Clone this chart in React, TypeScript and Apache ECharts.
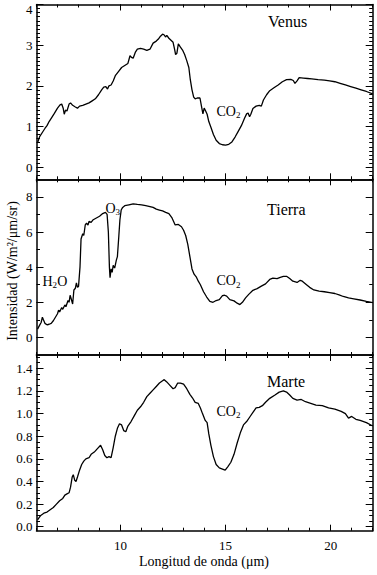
import React, { useEffect, useRef } from 'react';
import * as echarts from 'echarts';

// ---- Venus ----
const venusX = [6.05, 6.15, 6.3, 6.4, 6.5, 6.6, 6.7, 6.85, 7.0, 7.12, 7.2, 7.27, 7.32, 7.38, 7.45, 7.55, 7.62, 7.72, 7.85, 7.95, 8.05, 8.2, 8.35, 8.5, 8.65, 8.8, 8.95, 9.1, 9.2, 9.3, 9.38, 9.45, 9.55, 9.65, 9.75, 9.9, 10.05, 10.2, 10.35, 10.45, 10.52, 10.6, 10.7, 10.8, 10.95, 11.1, 11.25, 11.4, 11.55, 11.7, 11.8, 11.9, 12.0, 12.08, 12.14, 12.2, 12.3, 12.4, 12.5, 12.57, 12.62, 12.68, 12.75, 12.85, 12.95, 13.05, 13.15, 13.25, 13.32, 13.4, 13.48, 13.55, 13.65, 13.78, 13.85, 13.92, 13.98, 14.05, 14.12, 14.2, 14.3, 14.42, 14.55, 14.7, 14.85, 15.0, 15.15, 15.3, 15.45, 15.6, 15.75, 15.9, 16.0, 16.07, 16.14, 16.2, 16.3, 16.45, 16.6, 16.7, 16.8, 16.95, 17.1, 17.3, 17.5, 17.7, 17.9, 18.1, 18.22, 18.3, 18.4, 18.5, 18.7, 18.9, 19.1, 19.4, 19.7, 19.95, 20.2, 20.45, 20.7, 20.95, 21.2, 21.45, 21.7, 22.0];
const venusY = [0.6, 0.75, 0.87, 0.95, 1.02, 1.12, 1.2, 1.32, 1.45, 1.53, 1.55, 1.45, 1.3, 1.4, 1.38, 1.55, 1.58, 1.52, 1.48, 1.45, 1.5, 1.52, 1.55, 1.58, 1.63, 1.68, 1.78, 1.9, 1.97, 1.98, 1.92, 2.0, 2.02, 2.12, 2.25, 2.35, 2.45, 2.5, 2.55, 2.74, 2.7, 2.68, 2.82, 2.9, 2.92, 2.9, 2.87, 2.9, 3.05, 3.1, 3.15, 3.22, 3.27, 3.25, 3.2, 3.24, 3.17, 3.12, 3.07, 2.9, 2.77, 2.8, 3.03, 2.95, 2.88, 2.77, 2.62, 2.45, 2.15, 1.9, 1.72, 1.68, 1.7, 1.7, 1.5, 1.31, 1.45, 1.38, 1.3, 1.12, 0.98, 0.8, 0.66, 0.58, 0.55, 0.54, 0.56, 0.62, 0.74, 0.88, 1.02, 1.2, 1.31, 1.33, 1.24, 1.3, 1.44, 1.5, 1.52, 1.5, 1.65, 1.78, 1.88, 1.95, 2.02, 2.1, 2.15, 2.16, 2.13, 2.06, 2.12, 2.2, 2.19, 2.18, 2.17, 2.15, 2.14, 2.12, 2.1, 2.06, 2.02, 1.98, 1.94, 1.9, 1.86, 1.8];

// ---- Tierra ----
const tierraX = [6.05, 6.15, 6.22, 6.28, 6.33, 6.4, 6.5, 6.6, 6.7, 6.8, 6.9, 7.0, 7.05, 7.1, 7.2, 7.25, 7.35, 7.4, 7.5, 7.55, 7.6, 7.65, 7.72, 7.78, 7.85, 7.9, 7.95, 8.0, 8.07, 8.12, 8.2, 8.25, 8.32, 8.38, 8.45, 8.5, 8.6, 8.7, 8.85, 9.0, 9.15, 9.28, 9.36, 9.42, 9.47, 9.5, 9.55, 9.6, 9.65, 9.72, 9.8, 9.85, 9.92, 9.97, 10.03, 10.1, 10.2, 10.4, 10.6, 10.8, 11.0, 11.2, 11.4, 11.55, 11.7, 11.85, 12.0, 12.15, 12.3, 12.45, 12.6, 12.75, 12.9, 13.0, 13.1, 13.2, 13.3, 13.4, 13.5, 13.6, 13.7, 13.8, 13.95, 14.1, 14.25, 14.4, 14.55, 14.7, 14.85, 14.95, 15.05, 15.2, 15.4, 15.55, 15.68, 15.8, 15.95, 16.1, 16.3, 16.5, 16.7, 16.9, 17.1, 17.25, 17.45, 17.6, 17.75, 17.9, 18.05, 18.2, 18.4, 18.55, 18.65, 18.85, 19.0, 19.2, 19.45, 19.7, 19.95, 20.2, 20.4, 20.6, 20.85, 21.1, 21.4, 21.7, 22.0];
const tierraY = [0.47, 0.7, 0.85, 1.15, 1.0, 0.8, 0.72, 0.75, 0.8, 0.95, 1.15, 1.35, 1.55, 1.45, 1.7, 1.6, 1.85, 1.75, 2.1, 2.0, 2.4, 2.2, 1.9, 2.7, 2.8, 3.1, 2.85, 2.9, 4.0, 5.6, 5.9, 5.8, 6.4, 6.5, 6.4, 6.6, 6.55, 6.7, 6.8, 6.9, 7.05, 7.12, 7.0, 6.0, 4.0, 3.4, 3.9, 3.7, 4.1, 3.95, 4.4, 4.6, 5.8, 6.7, 7.25, 7.4, 7.5, 7.55, 7.6, 7.57, 7.55, 7.5, 7.45, 7.4, 7.3, 7.25, 7.2, 7.12, 7.05, 6.8, 6.4, 6.43, 6.3, 6.1, 5.8, 5.3, 4.6, 3.9, 3.6, 3.45, 3.2, 3.0, 2.6, 2.3, 2.05, 2.0, 2.1, 2.15, 2.38, 2.4, 2.35, 2.15, 2.08, 1.95, 1.87, 2.0, 2.25, 2.45, 2.68, 2.78, 2.92, 3.05, 3.3, 3.37, 3.35, 3.42, 3.47, 3.48, 3.35, 3.2, 3.13, 3.25, 3.2, 3.0, 2.85, 2.7, 2.63, 2.6, 2.55, 2.5, 2.42, 2.33, 2.25, 2.2, 2.13, 2.05, 1.98];

// ---- Marte ----
const marteX = [6.05, 6.2, 6.35, 6.5, 6.65, 6.8, 6.95, 7.1, 7.25, 7.35, 7.45, 7.55, 7.62, 7.7, 7.75, 7.82, 7.88, 7.95, 8.05, 8.15, 8.25, 8.35, 8.5, 8.6, 8.75, 8.9, 9.05, 9.15, 9.25, 9.35, 9.45, 9.55, 9.65, 9.75, 9.85, 9.95, 10.05, 10.15, 10.25, 10.35, 10.5, 10.65, 10.8, 10.95, 11.1, 11.25, 11.4, 11.55, 11.7, 11.85, 12.0, 12.08, 12.2, 12.35, 12.5, 12.6, 12.72, 12.85, 13.0, 13.15, 13.3, 13.42, 13.55, 13.7, 13.8, 13.9, 14.03, 14.12, 14.2, 14.3, 14.42, 14.55, 14.7, 14.85, 14.98, 15.1, 15.25, 15.4, 15.55, 15.7, 15.85, 16.0, 16.15, 16.3, 16.45, 16.6, 16.75, 16.9, 17.1, 17.35, 17.55, 17.75, 17.9, 18.05, 18.2, 18.4, 18.6, 18.8, 19.05, 19.3, 19.6, 19.9, 20.2, 20.5, 20.7, 20.85, 21.0, 21.2, 21.4, 21.7, 22.0];
const marteY = [0.06, 0.1, 0.12, 0.13, 0.15, 0.17, 0.2, 0.23, 0.25, 0.28, 0.29, 0.3, 0.35, 0.44, 0.46, 0.41, 0.4, 0.44, 0.5, 0.55, 0.58, 0.6, 0.61, 0.64, 0.66, 0.69, 0.72, 0.68, 0.63, 0.61, 0.62, 0.61, 0.7, 0.8, 0.87, 0.91, 0.9, 0.85, 0.84, 0.89, 0.93, 0.98, 1.03, 1.06, 1.1, 1.15, 1.18, 1.21, 1.24, 1.27, 1.29, 1.3, 1.28, 1.25, 1.22, 1.23, 1.27, 1.27, 1.26, 1.22, 1.17, 1.14, 1.1, 1.09, 1.05, 1.0, 0.94, 0.92, 0.82, 0.72, 0.62, 0.55, 0.52, 0.51, 0.5, 0.53, 0.57, 0.64, 0.74, 0.83, 0.9, 0.93, 0.97, 1.01, 1.05, 1.055, 1.07, 1.1, 1.135, 1.165, 1.19, 1.2, 1.19, 1.165, 1.135, 1.12, 1.125, 1.105, 1.09, 1.075, 1.07, 1.05, 1.04, 1.02, 1.0, 0.96, 0.975, 0.95, 0.94, 0.92, 0.89];

// ---- axes ----
const xTickLabels = [10, 15, 20];
const venusTickLabels = [0, 1, 2, 3, 4];
const tierraTickLabels = [0, 2, 4, 6, 8];
const marteTickLabels = [0, 0.2, 0.4, 0.6, 0.8, 1.0, 1.2, 1.4];

const FONT = 'Liberation Serif';
const BLACK = '#000';

function range(a: number, b: number, step: number): number[] {
  const out: number[] = [];
  const n = Math.round((b - a) / step);
  for (let i = 0; i <= n; i++) out.push(Math.round((a + i * step) * 1000) / 1000);
  return out;
}

const panels = [
  { name: 'Venus', xs: venusX, ys: venusY, min: -0.3, max: 4.0, major: venusTickLabels, minor: range(-0.3, 4.0, 0.1), digits: 0, top: 4.5, height: 174.8 },
  { name: 'Tierra', xs: tierraX, ys: tierraY, min: -1, max: 9, major: tierraTickLabels, minor: range(-1, 9, 1), digits: 0, top: 179.3, height: 175.7 },
  { name: 'Marte', xs: marteX, ys: marteY, min: -0.035, max: 1.518, major: marteTickLabels, minor: range(0, 1.5, 0.05), digits: 1, top: 355, height: 175.7 },
];

const X_MIN = 6;
const X_MAX = 22;
const xMinor = range(6, 22, 1);

function buildOption() {
  const grid: any[] = [];
  const xAxis: any[] = [];
  const yAxis: any[] = [];
  const series: any[] = [];
  const lineStyle = { color: BLACK, width: 1.5 };
  const tickStyle = { color: BLACK, width: 1 };

  panels.forEach((p, i) => {
    grid.push({ left: 36.5, right: 4.3, top: p.top, height: p.height, containLabel: false, outerBoundsMode: 'none' });
    const last = i === panels.length - 1;
    const xBase = {
      gridIndex: i, type: 'value', min: X_MIN, max: X_MAX,
      splitLine: { show: false },
    };
    xAxis.push({
      ...xBase, position: 'bottom', offset: 0,
      axisLine: { show: true, onZero: false, lineStyle },
      axisTick: { show: true, inside: true, length: 3, customValues: xMinor, lineStyle: tickStyle },
      axisLabel: { show: last, customValues: xTickLabels, color: BLACK, fontFamily: FONT, fontSize: 13, margin: 8 },
    });
    xAxis.push({
      ...xBase, position: 'bottom', offset: 0,
      axisLine: { show: false, onZero: false },
      axisTick: { show: true, inside: true, length: 6, customValues: xTickLabels, lineStyle: tickStyle },
      axisLabel: { show: false },
    });
    xAxis.push({
      ...xBase, position: 'top', offset: 0,
      axisLine: { show: true, onZero: false, lineStyle },
      axisTick: { show: true, inside: true, length: 3, customValues: xMinor, lineStyle: tickStyle },
      axisLabel: { show: false },
    });
    xAxis.push({
      ...xBase, position: 'top', offset: 0,
      axisLine: { show: false, onZero: false },
      axisTick: { show: true, inside: true, length: 6, customValues: xTickLabels, lineStyle: tickStyle },
      axisLabel: { show: false },
    });

    const yBase = { gridIndex: i, type: 'value', min: p.min, max: p.max, splitLine: { show: false } };
    // labels: the top "4" of Venus is drawn separately so it is not clipped
    const labelValues = i === 0 ? p.major.filter((v) => v < 4) : p.major;
    yAxis.push({
      ...yBase, position: 'left', offset: 0,
      axisLine: { show: true, onZero: false, lineStyle },
      axisTick: { show: true, inside: true, length: 7, customValues: p.major, lineStyle: tickStyle },
      axisLabel: {
        show: true, customValues: labelValues, color: BLACK, fontFamily: FONT, fontSize: 13, margin: 4,
        formatter: (v: number) => v.toFixed(p.digits),
      },
    });
    yAxis.push({
      ...yBase, position: 'left', offset: 0,
      axisLine: { show: false, onZero: false },
      axisTick: { show: true, inside: true, length: 3.5, customValues: p.minor, lineStyle: tickStyle },
      axisLabel: { show: false },
    });
    yAxis.push({
      ...yBase, position: 'right', offset: 0,
      axisLine: { show: true, onZero: false, lineStyle },
      axisTick: { show: true, inside: true, length: 7, customValues: p.major, lineStyle: tickStyle },
      axisLabel: { show: false },
    });
    yAxis.push({
      ...yBase, position: 'right', offset: 0,
      axisLine: { show: false, onZero: false },
      axisTick: { show: true, inside: true, length: 3.5, customValues: p.minor, lineStyle: tickStyle },
      axisLabel: { show: false },
    });

    series.push({
      type: 'line', name: p.name, xAxisIndex: i * 4, yAxisIndex: i * 4,
      data: p.xs.map((x, k) => [x, p.ys[k]]),
      showSymbol: false, symbol: 'none', smooth: false,
      lineStyle: { color: BLACK, width: 1.3 },
      clip: true,
    });
  });

  const txt = (text: string, x: number, y: number, size: number, align = 'left', extra: any = {}) => ({
    type: 'text', x, y, ...extra,
    style: { text, font: `${size}px ${FONT}`, fill: BLACK, textAlign: align, textVerticalAlign: 'middle' },
  });

  const graphic: any[] = [
    txt('4', 32.5, 9, 13, 'right'),
    txt('Venus', 268, 21, 16),
    txt('Tierra', 267, 209, 16),
    txt('Marte', 267, 381, 16),
    // CO2 Venus
    txt('CO', 216.5, 111, 14), txt('2', 236, 115, 9),
    // CO2 Tierra
    txt('CO', 216.5, 280.5, 14), txt('2', 236, 284.5, 9),
    // CO2 Marte
    txt('CO', 216.5, 411, 14), txt('2', 236, 415, 9),
    // O3
    txt('O', 105.5, 208, 14), txt('3', 115.6, 212, 9),
    // H2O
    txt('H', 42.5, 281, 14), txt('2', 52.6, 285, 9), txt('O', 57.3, 281, 14),
    // axis names
    txt('Longitud de onda (\u03bcm)', 204, 561, 14, 'center'),
    txt('Intensidad (W/m\u00b2/\u03bcm/sr)', 12, 271, 14, 'center', { rotation: Math.PI / 2 }),
  ];

  return {
    animation: false,
    backgroundColor: '#fff',
    grid, xAxis, yAxis, series, graphic,
  };
}

export default function App() {
  const ref = useRef<HTMLDivElement>(null);
  useEffect(() => {
    if (!ref.current) return;
    const chart = echarts.init(ref.current, undefined, { renderer: 'svg' });
    chart.setOption(buildOption() as any);
    return () => chart.dispose();
  }, []);
  return (
    <div ref={ref} style={{ position: 'fixed', left: 0, top: 0, width: 377, height: 575, background: '#fff' }} />
  );
}
